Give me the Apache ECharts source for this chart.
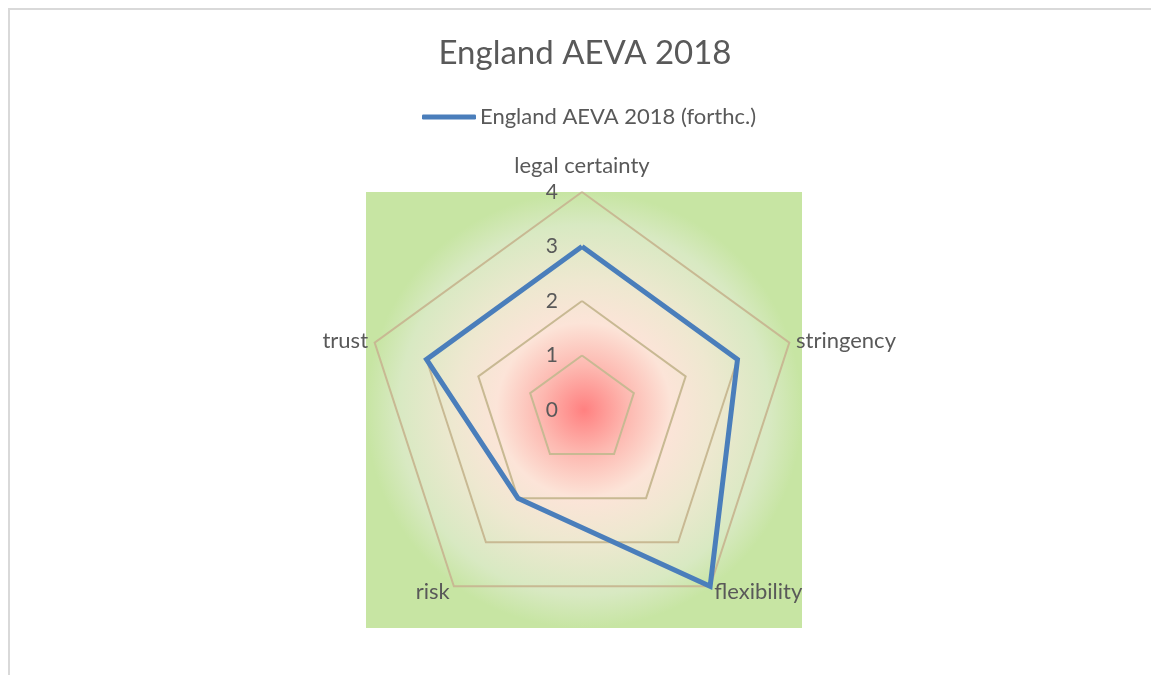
<!DOCTYPE html>
<html>
<head>
<meta charset="utf-8">
<script src="https://cdn.jsdelivr.net/npm/echarts@6/dist/echarts.min.js"></script>
<style>
  html, body { margin: 0; padding: 0; background: #fff; overflow: hidden; }
  #frame {
    position: absolute; left: 8px; top: 8px; width: 1200px; height: 700px;
    border-top: 2px solid #d9d9d9; border-left: 2px solid #d9d9d9;
  }
  #chart { position: absolute; left: 0; top: 0; width: 1151px; height: 675px; }
</style>
</head>
<body>
<div id="frame"></div>
<div id="chart"></div>
<script>
// radar draws counter-clockwise, so list the axes in that order
const indicatorNames = ["legal certainty", "trust", "risk", "flexibility", "stringency"];
const seriesName = "England AEVA 2018 (forthc.)";
const seriesValues = [3, 3, 2, 4, 3];
const axisMax = 4;

const FONT = "Lato, 'Noto Sans', sans-serif";
const TEXT = "#595959";
const cx = 582, cy = 410, radius = 218;

const chart = echarts.init(document.getElementById("chart"));

const option = {
  animation: false,
  title: {
    text: "England AEVA 2018",
    left: 580,
    textAlign: "center",
    top: 32,
    textStyle: { fontFamily: FONT, fontSize: 33, fontWeight: "normal", color: TEXT },
  },
  legend: {
    data: [seriesName],
    top: 101,
    left: 417,
    itemWidth: 54,
    itemHeight: 5,
    itemGap: 4,
    icon: "roundRect",
    textStyle: { fontFamily: FONT, fontSize: 22, color: TEXT, padding: [0, 0, 0, -1] },
  },
  graphic: [
    {
      type: "rect",
      z: -1,
      shape: { x: cx - radius + 2, y: cy - radius, width: radius * 2, height: radius * 2 },
      style: {
        fill: new echarts.graphic.RadialGradient(0.5, 0.5, 0.5, [
          { offset: 0, color: "#ff8080" },
          { offset: 0.2, color: "#fdb8b0" },
          { offset: 0.4, color: "#fce4d8" },
          { offset: 0.6, color: "#eee8d0" },
          { offset: 0.85, color: "#d8e9c2" },
          { offset: 1, color: "#c7e5a3" },
        ]),
      },
      silent: true,
    },
  ],
  radar: {
    center: [cx, cy],
    radius: radius,
    startAngle: 90,
    shape: "polygon",
    splitNumber: 4,
    indicator: indicatorNames.map((n, i) => ({
      name: n,
      min: 0,
      max: axisMax,
      axisLabel: i === 0 ? { show: true } : { show: false },
    })),
    nameGap: 7,
    axisName: {
      fontFamily: FONT,
      fontSize: 22,
      color: TEXT,
      formatter: (name) => (name === indicatorNames[0] ? "{top|" + name + "}" : name),
      rich: { top: { fontFamily: FONT, fontSize: 22, color: TEXT, padding: [0, 0, 8, 0] } },
    },
    axisLine: { show: false },
    axisTick: { show: false },
    axisLabel: {
      show: false,
      showMinLabel: true,
      margin: 24,
      fontFamily: FONT,
      fontSize: 21,
      color: TEXT,
    },
    splitLine: { lineStyle: { color: "#c8b993", width: 2 } },
    splitArea: { show: false },
  },
  series: [
    {
      name: seriesName,
      type: "radar",
      symbol: "none",
      lineStyle: { color: "#4a7ebb", width: 5, join: "miter" },
      itemStyle: { color: "#4a7ebb" },
      data: [{ name: seriesName, value: seriesValues }],
    },
  ],
};

chart.setOption(option);
</script>
</body>
</html>
